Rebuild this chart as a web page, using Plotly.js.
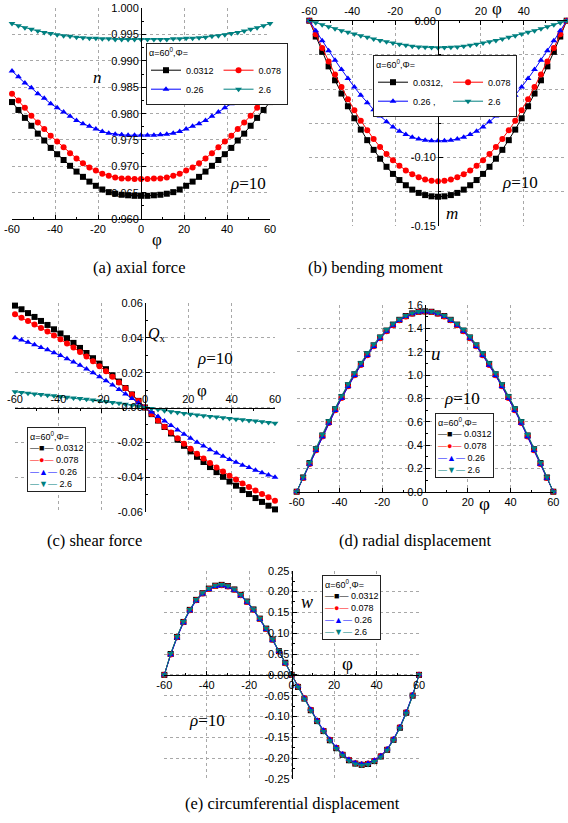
<!DOCTYPE html>
<html><head><meta charset="utf-8">
<script src="https://cdn.plot.ly/plotly-3.0.1.min.js"></script>
<style>html,body{margin:0;padding:0;background:#fff}#chart{width:568px;height:823px}</style>
</head><body><div id="chart"></div>
<script>
// ---------- data ----------
const phi = [-60,-57,-54,-51,-48,-45,-42,-39,-36,-33,-30,-27,-24,-21,-18,-15,-12,-9,-6,-3,0,3,6,9,12,15,18,21,24,27,30,33,36,39,42,45,48,51,54,57,60];
const seriesNames  = ['0.0312','0.078','0.26','2.6'];
const seriesNamesB = ['0.0312,','0.078','0.26 ,','2.6'];
const legendTitle = 'α=60<sup>0</sup>,Φ=';

// (a) axial force n
const nBlack = [0.9822,0.9807,0.9792,0.9777,0.9762,0.9749,0.9735,0.9723,0.9712,0.9701,0.9690,0.9680,0.9671,0.9663,0.9656,0.9651,0.9648,0.9646,0.9645,0.9644,0.9644,0.9644,0.9645,0.9646,0.9648,0.9651,0.9656,0.9663,0.9671,0.9680,0.9690,0.9701,0.9712,0.9723,0.9735,0.9749,0.9762,0.9777,0.9792,0.9807,0.9822];
const nRed   = [0.9838,0.9825,0.9811,0.9796,0.9783,0.9771,0.9758,0.9747,0.9736,0.9725,0.9715,0.9706,0.9698,0.9692,0.9686,0.9682,0.9679,0.9677,0.9677,0.9676,0.9676,0.9676,0.9677,0.9677,0.9679,0.9682,0.9686,0.9692,0.9698,0.9706,0.9715,0.9725,0.9736,0.9747,0.9758,0.9771,0.9783,0.9796,0.9811,0.9825,0.9838];
const nBlue  = [0.9881,0.9870,0.9858,0.9849,0.9838,0.9829,0.9819,0.9811,0.9803,0.9795,0.9787,0.9781,0.9776,0.9771,0.9766,0.9763,0.9761,0.9760,0.9759,0.9759,0.9759,0.9759,0.9759,0.9760,0.9761,0.9763,0.9766,0.9771,0.9776,0.9781,0.9787,0.9795,0.9803,0.9811,0.9819,0.9829,0.9838,0.9849,0.9858,0.9870,0.9881];
const nTeal  = [0.9971,0.9967,0.9963,0.9960,0.9957,0.9954,0.9952,0.9950,0.9948,0.9947,0.9945,0.9944,0.9943,0.9943,0.9942,0.9942,0.9941,0.9941,0.9941,0.9941,0.9941,0.9941,0.9941,0.9941,0.9941,0.9942,0.9942,0.9943,0.9943,0.9944,0.9945,0.9947,0.9948,0.9950,0.9952,0.9954,0.9957,0.9960,0.9963,0.9967,0.9971];

// (b) bending moment m
const mBlack = [0,-0.0116,-0.0228,-0.0334,-0.0436,-0.0533,-0.0626,-0.0714,-0.0797,-0.0874,-0.0945,-0.1010,-0.1069,-0.1121,-0.1166,-0.1204,-0.1236,-0.1260,-0.1276,-0.1285,-0.1288,-0.1285,-0.1276,-0.1260,-0.1236,-0.1204,-0.1166,-0.1121,-0.1069,-0.1010,-0.0945,-0.0874,-0.0797,-0.0714,-0.0626,-0.0533,-0.0436,-0.0334,-0.0228,-0.0116,0];
const mRed   = [0,-0.0100,-0.0200,-0.0298,-0.0394,-0.0486,-0.0574,-0.0656,-0.0732,-0.0802,-0.0866,-0.0924,-0.0976,-0.1022,-0.1062,-0.1096,-0.1124,-0.1146,-0.1162,-0.1172,-0.1175,-0.1172,-0.1162,-0.1146,-0.1124,-0.1096,-0.1062,-0.1022,-0.0976,-0.0924,-0.0866,-0.0802,-0.0732,-0.0656,-0.0574,-0.0486,-0.0394,-0.0298,-0.0200,-0.0100,0];
const mBlue  = [0,-0.0074,-0.0147,-0.0219,-0.0289,-0.0357,-0.0423,-0.0486,-0.0545,-0.0600,-0.0651,-0.0698,-0.0740,-0.0777,-0.0808,-0.0833,-0.0852,-0.0866,-0.0874,-0.0878,-0.0879,-0.0878,-0.0874,-0.0866,-0.0852,-0.0833,-0.0808,-0.0777,-0.0740,-0.0698,-0.0651,-0.0600,-0.0545,-0.0486,-0.0423,-0.0357,-0.0289,-0.0219,-0.0147,-0.0074,0];
const mTeal  = [0,-0.0015,-0.0030,-0.0044,-0.0059,-0.0073,-0.0085,-0.0098,-0.0110,-0.0122,-0.0134,-0.0144,-0.0154,-0.0163,-0.0172,-0.0180,-0.0187,-0.0192,-0.0195,-0.0197,-0.0198,-0.0197,-0.0195,-0.0192,-0.0187,-0.0180,-0.0172,-0.0163,-0.0154,-0.0144,-0.0134,-0.0122,-0.0110,-0.0098,-0.0085,-0.0073,-0.0059,-0.0044,-0.0030,-0.0015,0];

// (c) shear force Qx
const qBlack = [0.0585,0.0564,0.0542,0.0520,0.0497,0.0474,0.0449,0.0425,0.0398,0.0371,0.0342,0.0313,0.0283,0.0252,0.0220,0.0185,0.0149,0.0112,0.0075,0.0038,0,-0.0038,-0.0075,-0.0112,-0.0149,-0.0185,-0.0220,-0.0252,-0.0283,-0.0313,-0.0342,-0.0371,-0.0398,-0.0425,-0.0449,-0.0474,-0.0497,-0.0520,-0.0542,-0.0564,-0.0585];
const qRed   = [0.0535,0.0516,0.0497,0.0477,0.0457,0.0436,0.0414,0.0392,0.0368,0.0344,0.0319,0.0293,0.0266,0.0237,0.0208,0.0177,0.0144,0.0110,0.0074,0.0037,0,-0.0037,-0.0074,-0.0110,-0.0144,-0.0177,-0.0208,-0.0237,-0.0266,-0.0293,-0.0319,-0.0344,-0.0368,-0.0392,-0.0414,-0.0436,-0.0457,-0.0477,-0.0497,-0.0516,-0.0535];
const qBlue  = [0.0400,0.0388,0.0374,0.0360,0.0345,0.0331,0.0315,0.0298,0.0280,0.0261,0.0242,0.0221,0.0200,0.0177,0.0153,0.0129,0.0104,0.0078,0.0052,0.0026,0,-0.0026,-0.0052,-0.0078,-0.0104,-0.0129,-0.0153,-0.0177,-0.0200,-0.0221,-0.0242,-0.0261,-0.0280,-0.0298,-0.0315,-0.0331,-0.0345,-0.0360,-0.0374,-0.0388,-0.0400];
const qTeal  = [0.0090,0.0086,0.0082,0.0078,0.0075,0.0071,0.0067,0.0063,0.0059,0.0055,0.0051,0.0047,0.0043,0.0039,0.0034,0.0029,0.0024,0.0018,0.0012,0.0006,0,-0.0006,-0.0012,-0.0018,-0.0024,-0.0029,-0.0034,-0.0039,-0.0043,-0.0047,-0.0051,-0.0055,-0.0059,-0.0063,-0.0067,-0.0071,-0.0075,-0.0078,-0.0082,-0.0086,-0.0090];

// (d) radial displacement u
const uBlack = [0,0.122,0.245,0.364,0.482,0.597,0.707,0.812,0.912,1.006,1.095,1.178,1.254,1.322,1.381,1.432,1.473,1.505,1.528,1.542,1.546,1.542,1.528,1.505,1.473,1.432,1.381,1.322,1.254,1.178,1.095,1.006,0.912,0.812,0.707,0.597,0.482,0.364,0.245,0.122,0];
const uRed   = [0,0.117,0.238,0.356,0.473,0.588,0.698,0.803,0.903,0.997,1.086,1.170,1.247,1.316,1.376,1.427,1.469,1.502,1.525,1.539,1.543,1.539,1.525,1.502,1.469,1.427,1.376,1.316,1.247,1.170,1.086,0.997,0.903,0.803,0.698,0.588,0.473,0.356,0.238,0.117,0];
const uBlue  = [0,0.115,0.236,0.354,0.471,0.586,0.696,0.801,0.901,0.995,1.084,1.168,1.245,1.314,1.374,1.426,1.468,1.501,1.524,1.538,1.542,1.538,1.524,1.501,1.468,1.426,1.374,1.314,1.245,1.168,1.084,0.995,0.901,0.801,0.696,0.586,0.471,0.354,0.236,0.115,0];
const uTeal  = [0,0.127,0.251,0.372,0.491,0.607,0.718,0.823,0.923,1.017,1.105,1.188,1.263,1.331,1.389,1.439,1.479,1.510,1.532,1.545,1.549,1.545,1.532,1.510,1.479,1.439,1.389,1.331,1.263,1.188,1.105,1.017,0.923,0.823,0.718,0.607,0.491,0.372,0.251,0.127,0];

// (e) circumferential displacement w
const wBlack = [0,0.050,0.091,0.127,0.156,0.180,0.196,0.207,0.214,0.216,0.213,0.205,0.192,0.176,0.157,0.135,0.111,0.085,0.057,0.029,0,-0.029,-0.057,-0.085,-0.111,-0.135,-0.157,-0.176,-0.192,-0.205,-0.213,-0.216,-0.214,-0.207,-0.196,-0.180,-0.156,-0.127,-0.091,-0.050,0];
const wRed   = [0,0.049,0.090,0.126,0.155,0.179,0.195,0.206,0.213,0.215,0.212,0.204,0.191,0.175,0.156,0.134,0.110,0.084,0.056,0.028,0,-0.028,-0.056,-0.084,-0.110,-0.134,-0.156,-0.175,-0.191,-0.204,-0.212,-0.215,-0.213,-0.206,-0.195,-0.179,-0.155,-0.126,-0.090,-0.049,0];
const wBlue  = [0,0.048,0.089,0.125,0.154,0.178,0.194,0.205,0.212,0.214,0.211,0.203,0.190,0.174,0.155,0.133,0.109,0.083,0.056,0.028,0,-0.028,-0.056,-0.083,-0.109,-0.133,-0.155,-0.174,-0.190,-0.203,-0.211,-0.214,-0.212,-0.205,-0.194,-0.178,-0.154,-0.125,-0.089,-0.048,0];
const wTeal  = [0,0.051,0.092,0.128,0.157,0.181,0.197,0.208,0.215,0.217,0.214,0.206,0.193,0.177,0.158,0.136,0.112,0.086,0.058,0.029,0,-0.029,-0.058,-0.086,-0.112,-0.136,-0.158,-0.177,-0.193,-0.206,-0.214,-0.217,-0.215,-0.208,-0.197,-0.181,-0.157,-0.128,-0.092,-0.051,0];

// tick labels
const phiTicks = [-60,-40,-20,0,20,40,60];
const phiTickText = ['-60','-40','-20','0','20','40','60'];
const nTicks = [0.960,0.965,0.970,0.975,0.980,0.985,0.990,0.995,1.000];
const nTickText = ['0.960','0.965','0.970','0.975','0.980','0.985','0.990','0.995','1.000'];
const mTicks = [0,-0.10,-0.15];
const mTickText = ['0.00','-0.10','-0.15'];
const mGridMinor = [-0.025,-0.05,-0.075,-0.125];
const qTicks = [0.06,0.04,0.02,0,-0.02,-0.04,-0.06];
const qTickText = ['0.06','0.04','0.02','0.00','-0.02','-0.04','-0.06'];
const uTicks = [0,0.2,0.4,0.6,0.8,1.0,1.2,1.4,1.6];
const uTickText = ['0.0','0.2','0.4','0.6','0.8','1.0','1.2','1.4','1.6'];
const wTicks = [0.25,0.20,0.15,0.10,0.05,0,-0.05,-0.10,-0.15,-0.20,-0.25];
const wTickText = ['0.25','0.20','0.15','0.10','0.05','0.00','-0.05','-0.10','-0.15','-0.20','-0.25'];

// ---------- styling ----------
const colors  = ['#000000','#ff0000','#0000ff','#008080'];
const symbols = ['square','circle','triangle-up','triangle-down'];
const glyphs  = ['■','●','▲','▼'];
const W = 568, H = 823;
const px = v => v / W;
const py = v => 1 - v / H;
const sans  = 'Liberation Sans, Arial, sans-serif';
const serif = 'Liberation Serif, Times New Roman, serif';

const traces = [];
function addPanel(arrs, k, names, legendId, groups) {
  arrs.forEach((arr, i) => {
    const t = {
      type: 'scatter', mode: 'lines+markers', x: phi, y: arr,
      xaxis: 'x' + k, yaxis: 'y' + k, name: names[i],
      line: {color: colors[i], width: 1},
      marker: {symbol: symbols[i], size: 6, color: colors[i]},
      cliponaxis: false
    };
    if (legendId) { t.legend = legendId; t.legendgroup = groups[i]; }
    else t.showlegend = false;
    traces.push(t);
  });
}
addPanel([nBlack, nRed, nBlue, nTeal], '',  seriesNames,  'legend',  ['a1','a2','a1','a2']);
addPanel([mBlack, mRed, mBlue, mTeal], '2', seriesNamesB, 'legend2', ['b1','b2','b1','b2']);
addPanel([qBlack, qRed, qBlue, qTeal], '3', seriesNames,  null, null);
addPanel([uBlack, uRed, uBlue, uTeal], '4', seriesNames,  null, null);
addPanel([wBlack, wRed, wBlue, wTeal], '5', seriesNames,  null, null);

const grid = {showgrid: true, gridcolor: '#a8a8a8', gridwidth: 1, griddash: 'dot'};
const tickFont = {family: sans, size: 11, color: '#000'};
const tickStyle = {ticks: 'inside', ticklen: 4, tickwidth: 1, tickcolor: '#000'};
function xAxis(x0, x1, extra) {
  return Object.assign({
    domain: [px(x0), px(x1)], range: [-60, 60], tickmode: 'array',
    tickvals: phiTicks, ticktext: phiTickText, zeroline: false, showline: true,
    linecolor: '#000', linewidth: 1, tickfont: tickFont, fixedrange: true, automargin: false,
    minor: {tickmode: 'linear', tick0: 0, dtick: 10, ticks: 'inside', ticklen: 2, tickcolor: '#000', showgrid: false}
  }, tickStyle, grid, extra);
}
function yAxis(yTop, yBot, range, tv, tt, xZero, minor) {
  return Object.assign({
    domain: [py(yBot), py(yTop)], range: range, tickmode: 'array', tickvals: tv, ticktext: tt,
    anchor: 'free', position: px(xZero), side: 'left', zeroline: false, showline: true,
    linecolor: '#000', linewidth: 1, tickfont: tickFont, fixedrange: true, automargin: false,
    minor: minor
  }, tickStyle, grid);
}
const minorLin = (t0, dt) => ({tickmode: 'linear', tick0: t0, dtick: dt, ticks: 'inside', ticklen: 2, tickcolor: '#000', showgrid: false});

const legendBase = {
  bgcolor: '#ffffff', bordercolor: '#222', borderwidth: 1,
  font: {family: sans, size: 9, color: '#000'}, itemwidth: 30,
  title: {text: legendTitle, side: 'top', font: {family: sans, size: 9, color: '#000'}},
  xanchor: 'left', yanchor: 'top', orientation: 'h', traceorder: 'grouped', tracegroupgap: 0
};
const L = o => Object.assign({}, legendBase, o);

function ann(text, x, y, size, extra) {
  return Object.assign({text, xref: 'paper', yref: 'paper', x: px(x), y: py(y),
    xanchor: 'center', yanchor: 'middle', showarrow: false,
    font: {family: serif, size: size, color: '#000'}}, extra || {});
}
// single-column key box (same entries as the series above)
function keyBox(x, y) {
  const lines = [legendTitle].concat(seriesNames.map((nm, i) =>
    '<span style="color:' + colors[i] + '">—' + glyphs[i] + '—</span> ' + nm));
  return {text: lines.join('<br>'), xref: 'paper', yref: 'paper', x: px(x), y: py(y),
    xanchor: 'left', yanchor: 'top', align: 'left', showarrow: false,
    bgcolor: '#ffffff', bordercolor: '#222', borderwidth: 1, borderpad: 2,
    font: {family: sans, size: 9, color: '#000'}};
}
const rho = '<i>ρ</i>=10';

const layout = {
  width: W, height: H, margin: {l: 0, r: 0, t: 0, b: 0},
  paper_bgcolor: '#fff', plot_bgcolor: 'rgba(0,0,0,0)', showlegend: true,
  xaxis:  xAxis(12, 270, {anchor: 'y', side: 'bottom'}),
  yaxis:  yAxis(8.3, 219, [0.96, 1.0], nTicks, nTickText, 141, minorLin(0.96, 0.0025)),
  xaxis2: xAxis(309.3, 566.7, {anchor: 'y2', side: 'top'}),
  yaxis2: yAxis(20.7, 225.7, [-0.15, 0], mTicks, mTickText, 438,
            Object.assign({tickmode: 'array', tickvals: mGridMinor, ticks: 'inside', ticklen: 2, tickcolor: '#000'}, grid)),
  xaxis3: xAxis(15, 275, {anchor: 'free', position: py(407.5), side: 'top'}),
  yaxis3: yAxis(303, 512, [-0.06, 0.06], qTicks, qTickText, 145, minorLin(0, 0.01)),
  xaxis4: xAxis(296.7, 553.3, {anchor: 'y4', side: 'bottom'}),
  yaxis4: yAxis(305, 491.7, [0, 1.6], uTicks, uTickText, 425, minorLin(0, 0.1)),
  xaxis5: xAxis(164.3, 419, {anchor: 'free', position: py(675), side: 'bottom'}),
  yaxis5: yAxis(570.7, 779, [-0.25, 0.25], wTicks, wTickText, 291.7, minorLin(0, 0.025)),
  legend:  L({x: px(146), y: py(43)}),
  legend2: L({x: px(373), y: py(55)}),
  annotations: [
    ann('<i>n</i>', 97, 78, 17), ann(rho, 248, 183, 17), ann('φ', 157, 240, 17),
    ann('<i>m</i>', 452, 213, 17), ann(rho, 520, 182, 17), ann('φ', 497, 9, 17),
    ann('<i>Q</i><sub>x</sub>', 157, 335, 16), ann(rho, 215, 358, 17), ann('φ', 202, 390, 17),
    ann('<i>u</i>', 436, 353, 19), ann(rho, 462, 398, 17), ann('φ', 484, 503, 19),
    ann('<i>w</i>', 307, 602, 18), ann(rho, 207, 720, 17), ann('φ', 347, 663, 19),
    keyBox(27, 427), keyBox(435, 413), keyBox(322, 575),
    ann('(a) axial force', 139, 268, 16.5),
    ann('(b) bending moment', 375, 268, 16.5),
    ann('(c) shear force', 94, 540, 16.5),
    ann('(d) radial displacement', 415, 540, 16.5),
    ann('(e) circumferential displacement', 292, 803, 16.5)
  ]
};

Plotly.newPlot('chart', traces, layout, {displayModeBar: false, staticPlot: true});
</script>
</body></html>
